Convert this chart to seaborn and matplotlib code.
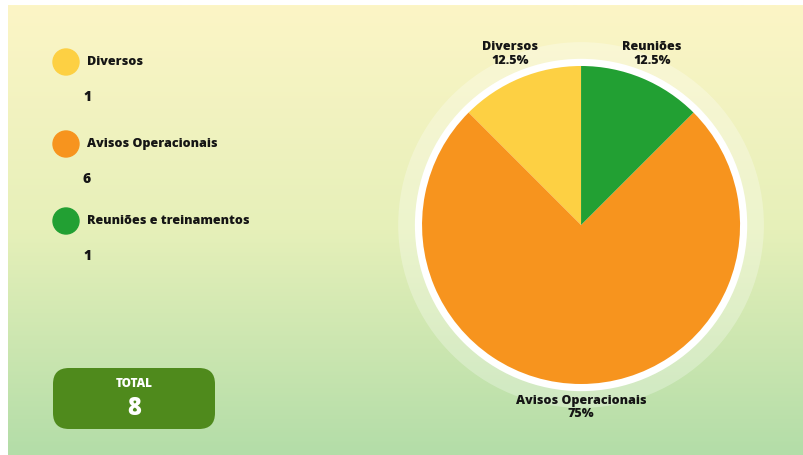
import matplotlib
matplotlib.use("Agg")
import matplotlib.pyplot as plt
import seaborn as sns
import numpy as np
from matplotlib.colors import LinearSegmentedColormap
from matplotlib.patches import Circle, FancyBboxPatch

# Data
categories = ["Diversos", "Avisos Operacionais", "Reuniões e treinamentos"]
short_labels = ["Diversos", "Avisos Operacionais", "Reuniões"]
counts = [1, 6, 1]
colors = ["#FDD043", "#F7941E", "#22A033"]

sns.set_theme(style="white")
plt.rcParams['font.family'] = ['Open Sans', 'DejaVu Sans']
txt_col = "#151515"
weight = 800

fig = plt.figure(figsize=(8.04, 4.56), dpi=100)
fig.patch.set_facecolor("white")

# background in pixel coordinates
bg = fig.add_axes([0, 0, 1, 1])
bg.set_xlim(0, 804)
bg.set_ylim(456, 0)
bg.axis("off")
grad = LinearSegmentedColormap.from_list("bg", ["#FCF5C6", "#E6F0B9", "#B3DDA8"])
bg.imshow(np.linspace(0, 1, 256).reshape(-1, 1), cmap=grad, aspect="auto",
          extent=(8, 804, 456, 6), zorder=0)

# legend on the left
ys = [63, 145, 222]
for cat, n, col, y in zip(categories, counts, colors, ys):
    bg.add_patch(Circle((66, y), 13, color=col, zorder=2))
    bg.text(87, y - 1, cat, fontsize=9, fontweight=weight, color=txt_col,
            va="center", ha="left", zorder=3)
    bg.text(83, y + 34, str(n), fontsize=10, fontweight=weight, color=txt_col,
            va="center", ha="left", zorder=3)

# total box
bg.add_patch(FancyBboxPatch((53, 369), 162, 61, boxstyle="round,pad=0,rounding_size=16",
                            facecolor="#4F8A1C", edgecolor="none", zorder=2))
bg.text(134, 384, "TOTAL", fontsize=8.5, fontweight=weight, color="white",
        ha="center", va="center", zorder=3)
bg.text(134, 409, str(sum(counts)), fontsize=17, fontweight=weight, color="white",
        ha="center", va="center", zorder=3)

# pie
ax = fig.add_axes([0.4656, 0.0511, 0.5142, 0.9066])
ax.add_patch(Circle((0, 0), 1.15, color="white", alpha=0.28, zorder=0, lw=0))
ax.add_patch(Circle((0, 0), 1.045, color="white", zorder=1, lw=0))
wedges, _ = ax.pie(counts, colors=colors, startangle=90, counterclock=True,
                   wedgeprops=dict(linewidth=0, zorder=2))
total = sum(counts)
for w, lab, n in zip(wedges, short_labels, counts):
    ang = np.deg2rad((w.theta1 + w.theta2) / 2)
    d = 1.17 if n < 4 else 1.14
    ax.text(d * np.cos(ang), d * np.sin(ang), f"{lab}\n{n / total * 100:g}%",
            ha="center", va="center", fontsize=9, fontweight=weight,
            color=txt_col, linespacing=1.15)
ax.set_xlim(-1.3, 1.3)
ax.set_ylim(-1.3, 1.3)
ax.set_aspect("equal")
ax.axis("off")

fig.savefig("out.png", dpi=100)
